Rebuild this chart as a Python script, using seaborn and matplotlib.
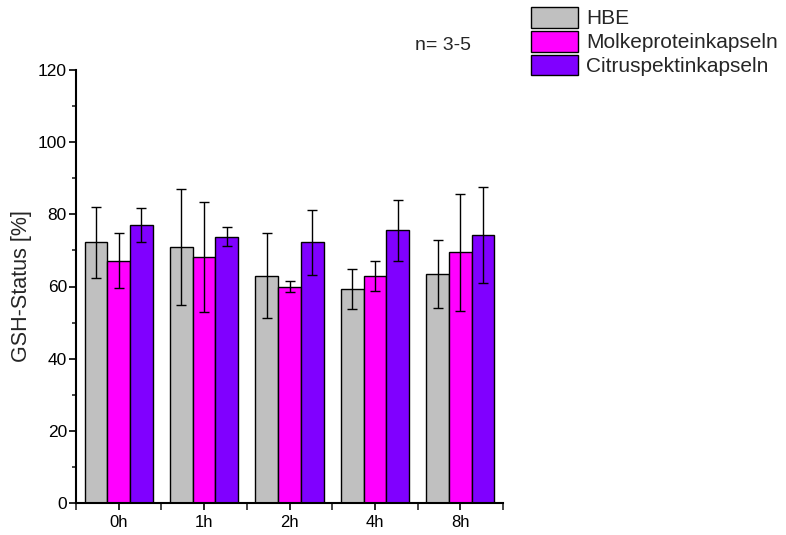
import matplotlib
matplotlib.use("Agg")
import matplotlib.pyplot as plt
import seaborn as sns
import pandas as pd
import numpy as np
from matplotlib.ticker import MultipleLocator
from matplotlib.patches import Patch

times = ["0h", "1h", "2h", "4h", "8h"]
groups = ["HBE", "Molkeproteinkapseln", "Citruspektinkapseln"]
hbe_mean = [72.2, 70.9, 63.0, 59.4, 63.4]
hbe_err = [9.8, 16.0, 11.8, 5.5, 9.4]
molke_mean = [67.2, 68.2, 59.9, 62.9, 69.5]
molke_err = [7.5, 15.2, 1.5, 4.2, 16.2]
citrus_mean = [77.0, 73.8, 72.2, 75.6, 74.2]
citrus_err = [4.7, 2.7, 9.0, 8.4, 13.3]
colors = ["#C0C0C0", "#FF00FF", "#8000FF"]

means = [hbe_mean, molke_mean, citrus_mean]
errs = [hbe_err, molke_err, citrus_err]
rows = []
for g, m in zip(groups, means):
    for t, v in zip(times, m):
        rows.append({"Zeit": t, "Gruppe": g, "Wert": v})
df = pd.DataFrame(rows)

sns.set_style("ticks")
plt.rcParams["font.family"] = ["Liberation Sans", "DejaVu Sans"]

fig = plt.figure(figsize=(7.86, 5.35), dpi=100)
ax = fig.add_axes([76 / 786, 1 - 503 / 535, 427 / 786, 433 / 535])

sns.barplot(data=df, x="Zeit", y="Wert", hue="Gruppe", order=times,
            hue_order=groups, palette=colors, saturation=1, errorbar=None,
            width=0.8, edgecolor="black", linewidth=1.0, ax=ax, legend=False)

for cont, e in zip(ax.containers, errs):
    xs = [p.get_x() + p.get_width() / 2 for p in cont.patches]
    ys = [p.get_height() for p in cont.patches]
    ax.errorbar(xs, ys, yerr=e, fmt="none", ecolor="black", elinewidth=1.0,
                capsize=3.5, capthick=1.0, zorder=5)

ax.set_xlim(-0.5, 4.5)
ax.set_ylim(0, 120)
ax.yaxis.set_major_locator(MultipleLocator(20))
ax.yaxis.set_minor_locator(MultipleLocator(10))
ax.set_xticks(range(len(times)))
ax.set_xticks(np.arange(-0.5, 5.0, 1.0), minor=True)
ax.tick_params(axis="both", which="major", direction="out", length=5, width=1.2,
               colors="black")
ax.tick_params(axis="y", which="major", labelsize=12.5, pad=1.5)
ax.tick_params(axis="x", which="major", labelsize=12)
ax.tick_params(axis="both", which="minor", direction="out", length=3, width=1.2)
ax.tick_params(axis="x", which="minor", length=5)
ax.set_xlabel("")
ax.set_ylabel("GSH-Status [%]", fontsize=15.5, labelpad=4)
for s in ["top", "right"]:
    ax.spines[s].set_visible(False)
for s in ["left", "bottom"]:
    ax.spines[s].set_linewidth(1.5)
    ax.spines[s].set_color("black")

handles = [Patch(facecolor=c, edgecolor="black", label=g) for c, g in zip(colors, groups)]
fig.legend(handles=handles, loc="upper left", bbox_to_anchor=(531 / 786, 1 - 7 / 535),
           frameon=False, fontsize=15, handlelength=2.25, handleheight=1.15,
           handletextpad=0.4, labelspacing=0.12, borderpad=0, borderaxespad=0)

fig.text(415 / 786, 1 - 46 / 535, "n= 3-5", fontsize=14, va="center", ha="left")

fig.savefig("out.png", dpi=100)
